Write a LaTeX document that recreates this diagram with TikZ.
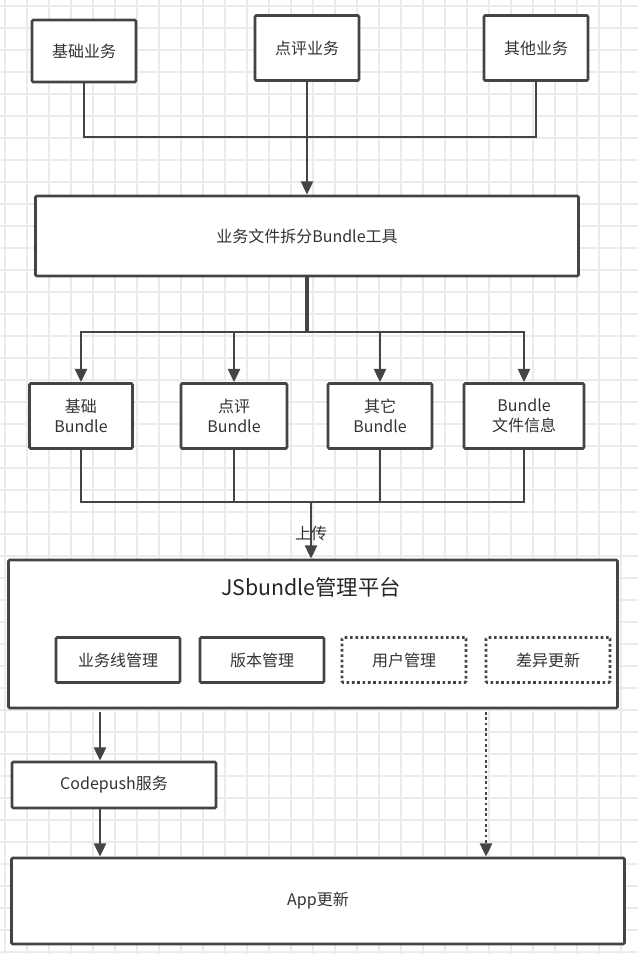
\documentclass[tikz,border=0pt]{standalone}
\usepackage{fontspec}
\setmainfont{Noto Sans CJK SC}
\usetikzlibrary{arrows.meta}
\definecolor{linegray}{HTML}{444444}
\definecolor{gridgray}{HTML}{EBEBEB}
\newcommand{\px}{*0.75pt}

\begin{document}
\begin{tikzpicture}[x=0.75pt,y=-0.75pt,>={Triangle[length=10pt,width=9pt]},
kocka/.style={rectangle,draw=linegray,line width=2pt,rounded corners=1pt,fill=white,inner sep=0pt,align=center,font=\fontsize{12pt}{15pt}\selectfont,text=black!80},
pontozott/.style={kocka,dotted,line width=2pt}]
\useasboundingbox (0,0) rectangle (638,954);
\fill[white] (0,0) rectangle (638,954);
\foreach \g in {0,...,28} {
 \draw[gridgray,line width=0.8pt] (5+22*\g,0)--(5+22*\g,954);
}
\foreach \g in {0,...,43} {
 \draw[gridgray,line width=0.8pt] (0,6+22*\g)--(638,6+22*\g);
}
\node[kocka,minimum width=104\px,minimum height=62\px] (alap) at (84,51){基础业务};
\node[kocka,minimum width=104\px,minimum height=65\px] (dianping) at (307,48){点评业务};
\node[kocka,minimum width=104\px,minimum height=65\px] (egyeb) at (536,48){其他业务};
\node[kocka,minimum width=543\px,minimum height=80\px] (eszkoz) at (307,236){业务文件拆分Bundle工具};
\node[kocka,minimum width=103\px,minimum height=65\px] (b1) at (81,416){基础\\Bundle};
\node[kocka,minimum width=106\px,minimum height=65\px] (b2) at (234,416){点评\\Bundle};
\node[kocka,minimum width=104\px,minimum height=65\px] (b3) at (380,416){其它\\Bundle};
\node[kocka,minimum width=120\px,minimum height=65\px] (b4) at (524,416){Bundle\\文件信息};
\node[kocka,minimum width=609\px,minimum height=148\px] (platform) at (313,634){};
\node[font=\fontsize{16pt}{18pt}\selectfont,text=black!85] (cim) at (311,587){JSbundle管理平台};
\node[kocka,minimum width=124\px,minimum height=45\px] (p1) at (118,660){业务线管理};
\node[kocka,minimum width=124\px,minimum height=45\px] (p2) at (262,660){版本管理};
\node[pontozott,minimum width=124\px,minimum height=45\px] (p3) at (404,660){用户管理};
\node[pontozott,minimum width=124\px,minimum height=45\px] (p4) at (548,660){差异更新};
\node[kocka,minimum width=204\px,minimum height=46\px] (codepush) at (114,785){Codepush服务};
\node[kocka,minimum width=613\px,minimum height=86\px] (app) at (318,901){App更新};
\coordinate (gy1) at (307,137);
\coordinate (gy2) at (307,332);
\coordinate (gy3) at (311,502);
\begin{scope}[draw=linegray,line width=2pt]
 \draw (alap)|-(gy1);
 \draw (egyeb)|-(gy1);
 \draw (dianping)--(gy1);
 \draw[->] (gy1)--(eszkoz);
 \draw[line width=2.6pt] (eszkoz)--(gy2);
 \draw[->] (gy2)-|(b1);
 \draw[->] (gy2)-|(b2);
 \draw[->] (gy2)-|(b3);
 \draw[->] (gy2)-|(b4);
 \draw (b1)|-(gy3);
 \draw (b2)|-(gy3);
 \draw (b3)|-(gy3);
 \draw (b4)|-(gy3);
 \draw[->] (gy3)--(gy3|-platform.north) node[pos=.55, font=\fontsize{12pt}{14pt}\selectfont, text=black!80]{上传};
 \draw[->] (100,712)--(codepush.north-|100,0);
 \draw[->] (codepush.south-|100,0)--(app.north-|100,0);
 \draw[->,dotted] (486,712)--(app.north-|486,0);
\end{scope}
\end{tikzpicture}
\end{document}
